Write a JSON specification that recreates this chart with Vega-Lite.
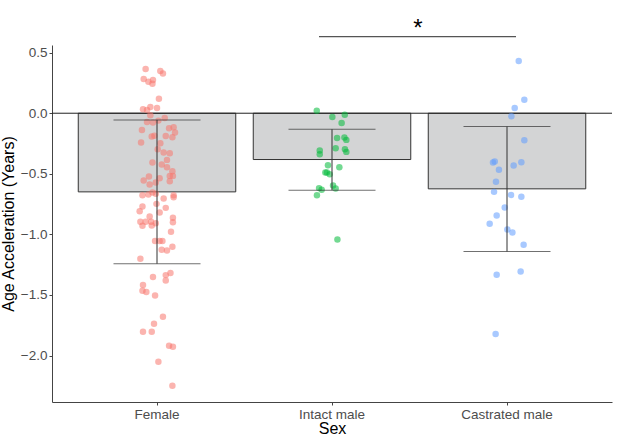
{
  "$schema": "https://vega.github.io/schema/vega-lite/v6.json",
  "autosize": "none",
  "padding": {"left": 52, "top": 45, "right": 5, "bottom": 35},
  "width": 560,
  "height": 357,
  "config": {
    "view": {"stroke": null},
    "font": "Liberation Sans",
    "axis": {
      "grid": false,
      "domainColor": "#444",
      "tickColor": "#444",
      "tickSize": 3,
      "labelFontSize": 13.5,
      "labelColor": "#4D4D4D",
      "labelFont": "Liberation Sans",
      "titleFont": "Liberation Sans",
      "titleFontSize": 16,
      "titleFontWeight": "normal",
      "titleColor": "#000"
    }
  },
  "datasets": {
    "stats": [
      {"sex": "Female", "mean": -0.649, "lo": -1.242, "hi": -0.055},
      {"sex": "Intact male", "mean": -0.382, "lo": -0.635, "hi": -0.132},
      {"sex": "Castrated male", "mean": -0.624, "lo": -1.141, "hi": -0.110}
    ],
    "sig": [
      {"from": "Intact male", "to": "Castrated male", "y": 0.632, "label": "*"}
    ],
    "points": [
      {"sex": "Female", "value": 0.365, "jitter": -0.065},
      {"sex": "Female", "value": 0.349, "jitter": 0.019},
      {"sex": "Female", "value": 0.327, "jitter": 0.034},
      {"sex": "Female", "value": 0.283, "jitter": -0.076},
      {"sex": "Female", "value": 0.26, "jitter": -0.049},
      {"sex": "Female", "value": 0.275, "jitter": -0.023},
      {"sex": "Female", "value": 0.244, "jitter": -0.026},
      {"sex": "Female", "value": 0.12, "jitter": 0.011},
      {"sex": "Female", "value": 0.033, "jitter": -0.08},
      {"sex": "Female", "value": 0.027, "jitter": -0.057},
      {"sex": "Female", "value": 0.052, "jitter": -0.038},
      {"sex": "Female", "value": 0.044, "jitter": 0.0},
      {"sex": "Female", "value": -0.016, "jitter": -0.038},
      {"sex": "Female", "value": -0.039, "jitter": 0.044},
      {"sex": "Female", "value": -0.072, "jitter": -0.057},
      {"sex": "Female", "value": -0.077, "jitter": -0.023},
      {"sex": "Female", "value": -0.061, "jitter": 0.008},
      {"sex": "Female", "value": -0.138, "jitter": -0.086},
      {"sex": "Female", "value": -0.124, "jitter": 0.069},
      {"sex": "Female", "value": -0.115, "jitter": 0.095},
      {"sex": "Female", "value": -0.16, "jitter": 0.103},
      {"sex": "Female", "value": -0.193, "jitter": -0.03},
      {"sex": "Female", "value": -0.185, "jitter": -0.015},
      {"sex": "Female", "value": -0.187, "jitter": 0.05},
      {"sex": "Female", "value": -0.198, "jitter": 0.088},
      {"sex": "Female", "value": -0.242, "jitter": -0.091},
      {"sex": "Female", "value": -0.247, "jitter": 0.019},
      {"sex": "Female", "value": -0.297, "jitter": 0.004},
      {"sex": "Female", "value": -0.325, "jitter": 0.038},
      {"sex": "Female", "value": -0.33, "jitter": 0.073},
      {"sex": "Female", "value": -0.385, "jitter": 0.057},
      {"sex": "Female", "value": -0.407, "jitter": -0.026},
      {"sex": "Female", "value": -0.424, "jitter": 0.027},
      {"sex": "Female", "value": -0.445, "jitter": 0.057},
      {"sex": "Female", "value": -0.478, "jitter": 0.088},
      {"sex": "Female", "value": -0.517, "jitter": 0.073},
      {"sex": "Female", "value": -0.517, "jitter": 0.091},
      {"sex": "Female", "value": -0.523, "jitter": -0.046},
      {"sex": "Female", "value": -0.556, "jitter": -0.076},
      {"sex": "Female", "value": -0.536, "jitter": 0.015},
      {"sex": "Female", "value": -0.561, "jitter": 0.073},
      {"sex": "Female", "value": -0.589, "jitter": -0.042},
      {"sex": "Female", "value": -0.572, "jitter": -0.007},
      {"sex": "Female", "value": -0.654, "jitter": -0.026},
      {"sex": "Female", "value": -0.676, "jitter": -0.083},
      {"sex": "Female", "value": -0.671, "jitter": -0.049},
      {"sex": "Female", "value": -0.665, "jitter": -0.007},
      {"sex": "Female", "value": -0.676, "jitter": 0.095},
      {"sex": "Female", "value": -0.693, "jitter": 0.095},
      {"sex": "Female", "value": -0.704, "jitter": 0.038},
      {"sex": "Female", "value": -0.748, "jitter": -0.003},
      {"sex": "Female", "value": -0.77, "jitter": -0.083},
      {"sex": "Female", "value": -0.781, "jitter": 0.05},
      {"sex": "Female", "value": -0.808, "jitter": -0.099},
      {"sex": "Female", "value": -0.819, "jitter": 0.015},
      {"sex": "Female", "value": -0.852, "jitter": -0.042},
      {"sex": "Female", "value": -0.863, "jitter": 0.091},
      {"sex": "Female", "value": -0.9, "jitter": 0.091},
      {"sex": "Female", "value": -0.896, "jitter": -0.095},
      {"sex": "Female", "value": -0.896, "jitter": -0.065},
      {"sex": "Female", "value": -0.896, "jitter": -0.034},
      {"sex": "Female", "value": -0.926, "jitter": -0.03},
      {"sex": "Female", "value": -0.907, "jitter": -0.007},
      {"sex": "Female", "value": -0.929, "jitter": -0.083},
      {"sex": "Female", "value": -0.979, "jitter": 0.08},
      {"sex": "Female", "value": -1.055, "jitter": -0.011},
      {"sex": "Female", "value": -1.055, "jitter": 0.015},
      {"sex": "Female", "value": -1.055, "jitter": 0.031},
      {"sex": "Female", "value": -1.127, "jitter": 0.027},
      {"sex": "Female", "value": -1.133, "jitter": 0.057},
      {"sex": "Female", "value": -1.102, "jitter": 0.088},
      {"sex": "Female", "value": -1.201, "jitter": -0.095},
      {"sex": "Female", "value": -1.319, "jitter": 0.077},
      {"sex": "Female", "value": -1.336, "jitter": 0.05},
      {"sex": "Female", "value": -1.38, "jitter": 0.05},
      {"sex": "Female", "value": -1.352, "jitter": -0.023},
      {"sex": "Female", "value": -1.418, "jitter": -0.08},
      {"sex": "Female", "value": -1.465, "jitter": -0.083},
      {"sex": "Female", "value": -1.476, "jitter": -0.061},
      {"sex": "Female", "value": -1.504, "jitter": -0.011},
      {"sex": "Female", "value": -1.679, "jitter": 0.034},
      {"sex": "Female", "value": -1.737, "jitter": -0.017},
      {"sex": "Female", "value": -1.803, "jitter": -0.08},
      {"sex": "Female", "value": -1.803, "jitter": -0.03},
      {"sex": "Female", "value": -1.918, "jitter": 0.069},
      {"sex": "Female", "value": -1.927, "jitter": 0.091},
      {"sex": "Female", "value": -2.05, "jitter": 0.008},
      {"sex": "Female", "value": -2.248, "jitter": 0.088},
      {"sex": "Intact male", "value": 0.021, "jitter": -0.087},
      {"sex": "Intact male", "value": -0.031, "jitter": 0.002},
      {"sex": "Intact male", "value": -0.012, "jitter": 0.073},
      {"sex": "Intact male", "value": -0.08, "jitter": 0.055},
      {"sex": "Intact male", "value": -0.204, "jitter": 0.029},
      {"sex": "Intact male", "value": -0.201, "jitter": 0.071},
      {"sex": "Intact male", "value": -0.22, "jitter": 0.082},
      {"sex": "Intact male", "value": -0.289, "jitter": 0.021},
      {"sex": "Intact male", "value": -0.297, "jitter": 0.074},
      {"sex": "Intact male", "value": -0.319, "jitter": 0.082},
      {"sex": "Intact male", "value": -0.308, "jitter": -0.07},
      {"sex": "Intact male", "value": -0.338, "jitter": -0.07},
      {"sex": "Intact male", "value": -0.429, "jitter": -0.023},
      {"sex": "Intact male", "value": -0.445, "jitter": 0.042},
      {"sex": "Intact male", "value": -0.49, "jitter": -0.038},
      {"sex": "Intact male", "value": -0.49, "jitter": -0.029},
      {"sex": "Intact male", "value": -0.503, "jitter": -0.013},
      {"sex": "Intact male", "value": -0.597, "jitter": 0.006},
      {"sex": "Intact male", "value": -0.622, "jitter": 0.021},
      {"sex": "Intact male", "value": -0.618, "jitter": -0.074},
      {"sex": "Intact male", "value": -0.632, "jitter": -0.059},
      {"sex": "Intact male", "value": -0.676, "jitter": -0.086},
      {"sex": "Intact male", "value": -1.042, "jitter": 0.031},
      {"sex": "Castrated male", "value": 0.431, "jitter": 0.067},
      {"sex": "Castrated male", "value": 0.112, "jitter": 0.099},
      {"sex": "Castrated male", "value": 0.044, "jitter": 0.044},
      {"sex": "Castrated male", "value": -0.025, "jitter": 0.025},
      {"sex": "Castrated male", "value": -0.223, "jitter": 0.099},
      {"sex": "Castrated male", "value": -0.407, "jitter": -0.08},
      {"sex": "Castrated male", "value": -0.399, "jitter": -0.07},
      {"sex": "Castrated male", "value": -0.467, "jitter": -0.046},
      {"sex": "Castrated male", "value": -0.432, "jitter": 0.038},
      {"sex": "Castrated male", "value": -0.404, "jitter": 0.082},
      {"sex": "Castrated male", "value": -0.566, "jitter": -0.063},
      {"sex": "Castrated male", "value": -0.649, "jitter": -0.074},
      {"sex": "Castrated male", "value": -0.674, "jitter": 0.023},
      {"sex": "Castrated male", "value": -0.69, "jitter": 0.082},
      {"sex": "Castrated male", "value": -0.778, "jitter": -0.013},
      {"sex": "Castrated male", "value": -0.844, "jitter": -0.059},
      {"sex": "Castrated male", "value": -0.913, "jitter": -0.099},
      {"sex": "Castrated male", "value": -0.96, "jitter": 0.002},
      {"sex": "Castrated male", "value": -0.984, "jitter": 0.031},
      {"sex": "Castrated male", "value": -1.086, "jitter": 0.095},
      {"sex": "Castrated male", "value": -1.333, "jitter": -0.059},
      {"sex": "Castrated male", "value": -1.306, "jitter": 0.078},
      {"sex": "Castrated male", "value": -1.822, "jitter": -0.065}
    ]
  },
  "encoding": {
    "x": {
      "field": "sex",
      "type": "nominal",
      "sort": ["Female", "Intact male", "Castrated male"],
      "scale": {"domain": ["Female", "Intact male", "Castrated male"], "paddingInner": 0, "paddingOuter": 0.1},
      "axis": {"title": "Sex", "labelAngle": 0, "labelPadding": 2, "titlePadding": 0}
    }
  },
  "layer": [
    {
      "data": {"name": "stats"},
      "mark": {"type": "bar", "width": 157.5, "fill": "#D3D4D5", "stroke": "#333", "strokeWidth": 1},
      "encoding": {
        "y": {
          "field": "mean",
          "type": "quantitative",
          "scale": {"domain": [-2.383, 0.563], "nice": false, "zero": false},
          "axis": {
            "title": "Age Acceleration (Years)",
            "values": [-2, -1.5, -1, -0.5, 0, 0.5],
            "format": ".1f",
            "labelPadding": 2,
            "titlePadding": 4
          }
        },
        "y2": {"datum": 0}
      }
    },
    {
      "data": {"values": [{"v": 0}]},
      "mark": {"type": "rule", "color": "#222", "strokeWidth": 1},
      "encoding": {"x": null, "y": {"field": "v", "type": "quantitative"}}
    },
    {
      "data": {"name": "points"},
      "mark": {"type": "circle", "size": 42, "opacity": 0.55},
      "encoding": {
        "y": {"field": "value", "type": "quantitative"},
        "xOffset": {"field": "jitter", "type": "quantitative", "scale": {"domain": [-0.5, 0.5], "range": [0, 175]}},
        "color": {
          "field": "sex",
          "type": "nominal",
          "scale": {"domain": ["Female", "Intact male", "Castrated male"], "range": ["#F8766D", "#00BA38", "#619CFF"]},
          "legend": null
        }
      }
    },
    {
      "data": {"name": "stats"},
      "mark": {"type": "rule", "color": "#333", "strokeWidth": 1},
      "encoding": {"y": {"field": "lo", "type": "quantitative"}, "y2": {"field": "hi"}}
    },
    {
      "data": {"name": "stats"},
      "mark": {"type": "tick", "color": "#333", "size": 87, "thickness": 1},
      "encoding": {"y": {"field": "lo", "type": "quantitative"}}
    },
    {
      "data": {"name": "stats"},
      "mark": {"type": "tick", "color": "#333", "size": 87, "thickness": 1},
      "encoding": {"y": {"field": "hi", "type": "quantitative"}}
    },
    {
      "data": {"name": "sig"},
      "mark": {"type": "rule", "color": "#555", "strokeWidth": 1.2, "xOffset": -13, "x2Offset": 9},
      "encoding": {
        "x": {"field": "from", "type": "nominal"},
        "x2": {"field": "to"},
        "y": {"field": "y", "type": "quantitative"}
      }
    },
    {
      "data": {"name": "sig"},
      "mark": {"type": "text", "fontSize": 24, "color": "#000", "dx": 86, "dy": -1, "baseline": "alphabetic", "align": "center"},
      "encoding": {
        "x": {"field": "from", "type": "nominal"},
        "y": {"field": "y", "type": "quantitative"},
        "text": {"field": "label"}
      }
    }
  ]
}
